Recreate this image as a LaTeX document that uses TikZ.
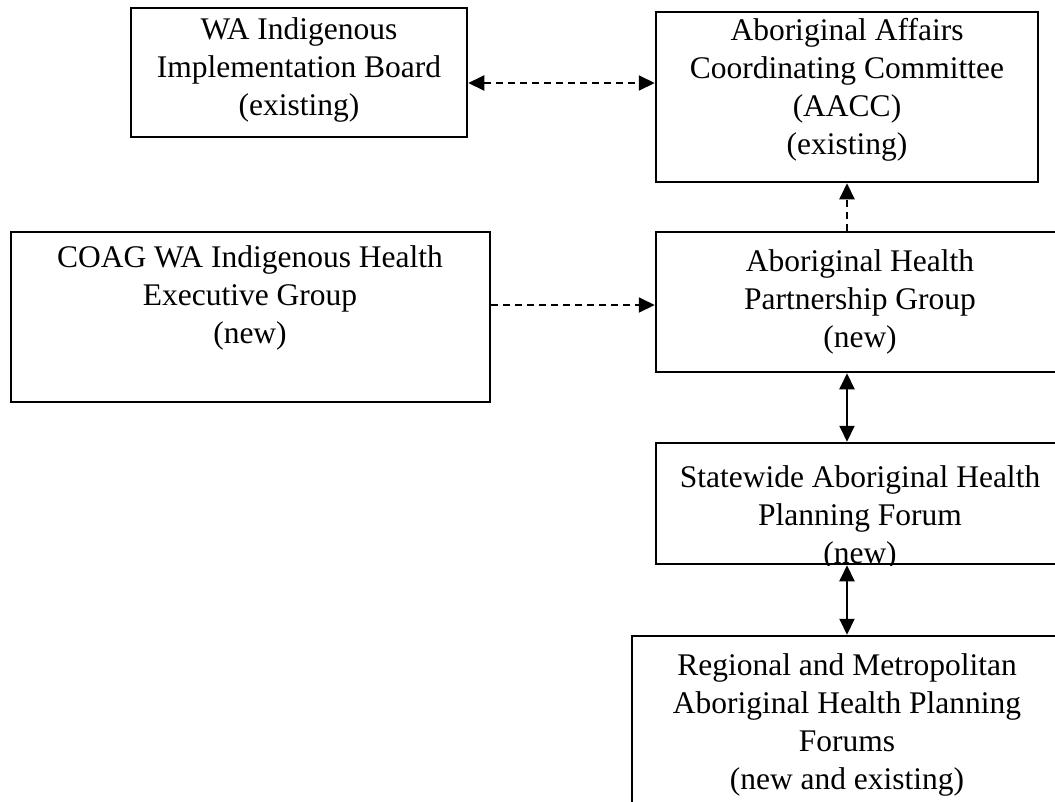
\documentclass[tikz,border=0pt]{standalone}
\usepackage{fontspec}
\setmainfont{Liberation Serif}
\usetikzlibrary{arrows.meta}
\begin{document}
\begin{tikzpicture}[x=1pt,y=-1pt,
  boxnode/.style={draw, line width=2.5pt, inner sep=0pt},
  txt/.style={align=center, font=\fontsize{31.5}{38}\selectfont, inner sep=0pt},
  dashline/.style={line width=2pt, dash pattern=on 7pt off 5pt},
  solidline/.style={line width=2pt},
  tipa/.tip={Triangle[length=16pt,width=15pt]}]
\useasboundingbox (0,0) rectangle (1055,801);
\fill[white] (0,0) rectangle (1055,801);
\clip (0,0) rectangle (1055,801);

% boxes
\node[boxnode, minimum width=336pt, minimum height=129pt] (wa) at (299,72.5) {};
\node[boxnode, minimum width=382pt, minimum height=170pt] (aacc) at (847,97) {};
\node[boxnode, minimum width=479pt, minimum height=170pt] (coag) at (250.5,317) {};
\node[boxnode, minimum width=408pt, minimum height=140pt] (ahpg) at (860,302) {};
\node[boxnode, minimum width=408pt, minimum height=121pt] (sw) at (860,503.5) {};
\node[boxnode, minimum width=430pt, minimum height=200pt] (reg) at (847,736) {};

% texts
\node[txt] (wa-t) at (299,70) {WA Indigenous\\Implementation Board\\(existing)};
\node[txt] (aacc-t) at (847,90) {Aboriginal Affairs\\Coordinating Committee\\(AACC)\\(existing)};
\node[txt] (coag-t) at (250,298) {COAG WA Indigenous Health\\Executive Group\\(new)};
\node[txt] (ahpg-t) at (860,302) {Aboriginal Health\\Partnership Group\\(new)};
\begin{scope}
  \clip (sw.north west) rectangle (sw.south east);
  \node[txt] (sw-t) at (860,517.5) {Statewide Aboriginal Health\\Planning Forum\\(new)};
\end{scope}
\node[txt] (reg-t) at (847,725) {Regional and Metropolitan\\Aboriginal Health Planning\\Forums\\(new and existing)};

% connectors
\coordinate (waR) at ([yshift=-10.5pt]wa.east);
\draw[dashline, tipa-tipa] (waR) -- (waR -| aacc.west);
\coordinate (coagR) at ([yshift=12pt]coag.east);
\draw[dashline, -tipa] (coagR) -- (coagR -| ahpg.west);
\draw[dashline, -tipa] (ahpg.north -| aacc.south) -- (aacc.south);
\draw[solidline, tipa-tipa] (ahpg.south -| aacc.south) -- (sw.north -| aacc.south);
\draw[solidline, tipa-tipa] (sw.south -| reg.north) -- (reg.north);
\end{tikzpicture}
\end{document}
